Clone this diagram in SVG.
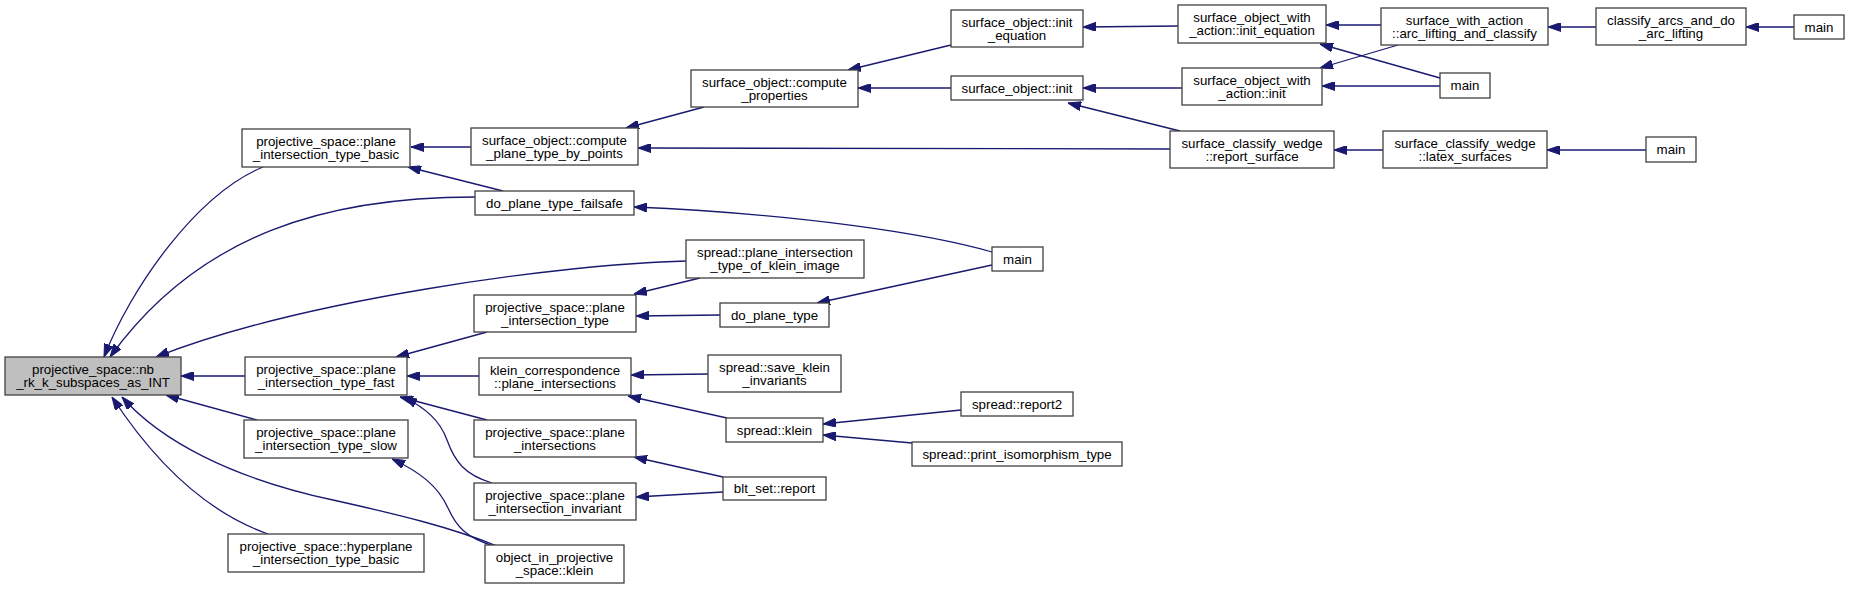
<svg xmlns="http://www.w3.org/2000/svg" width="1850" height="589" viewBox="0 0 1850 589">
<style>
.n rect{fill:#ffffff;stroke:#404040;stroke-width:1.3}
.n.root rect{fill:#bfbfbf}
.n text{font-family:"Liberation Sans",Arial,Helvetica,sans-serif;font-size:13.3px;fill:#000000;text-anchor:middle}
.e path{fill:none;stroke:#191970;stroke-width:1.3;marker-start:url(#ah)}
</style>
<defs>
<marker id="ah" viewBox="0 0 13 9" refX="13" refY="4.5" markerWidth="13" markerHeight="9" markerUnits="userSpaceOnUse" orient="auto-start-reverse">
<path d="M0,0 L13,4.5 L0,9 z" fill="#191970" stroke="#191970" stroke-width="1"/>
</marker>
</defs>
<rect width="1850" height="589" fill="#ffffff"/>
<g id="edges" class="e">
<path d="M411,147 L471,147"/>
<path d="M408,167 L503,191"/>
<path d="M104,357 C130,290 195,195 263,167"/>
<path d="M110,357 C200,232 330,197 475,197"/>
<path d="M156,357 C300,300 560,264 686,261"/>
<path d="M181,376 L245,376"/>
<path d="M166,395 L257,420"/>
<path d="M122,397 C160,440 230,478 333,500 C400,515 450,527 497,546"/>
<path d="M112,397 C150,455 200,510 268,534"/>
<path d="M626,128 L704,107"/>
<path d="M638,148 L1170,149"/>
<path d="M848,70 L951,45"/>
<path d="M858,88 L951,88"/>
<path d="M1083,27 L1178,26"/>
<path d="M1083,88 L1182,88"/>
<path d="M1068,103 L1180,131"/>
<path d="M1326,25 L1381,25"/>
<path d="M1320,44 L1440,78"/>
<path d="M1320,68 L1398,45"/>
<path d="M1322,86 L1440,86"/>
<path d="M1548,27 L1596,27"/>
<path d="M1746,27 L1794,27"/>
<path d="M1334,150 L1383,150"/>
<path d="M1547,150 L1646,150"/>
<path d="M634,207 C800,214 930,234 992,252"/>
<path d="M634,294 L700,278"/>
<path d="M396,357 L487,332"/>
<path d="M636,316 L720,315"/>
<path d="M817,303 L992,265"/>
<path d="M407,376 L479,376"/>
<path d="M400,397 L487,420"/>
<path d="M404,397 C425,408 440,420 447,440 C455,462 465,475 492,483"/>
<path d="M392,459 C420,472 438,486 448,508 C456,526 466,538 494,546"/>
<path d="M631,375 L708,374"/>
<path d="M628,396 L727,418"/>
<path d="M823,424 L961,410"/>
<path d="M823,435 L912,443"/>
<path d="M634,457 L723,477"/>
<path d="M636,497 L723,492"/>
</g>
<g id="node_root" class="n root"><rect x="5" y="357" width="176" height="38"/><text x="93" y="374">projective_space::nb</text><text x="93" y="387">_rk_k_subspaces_as_INT</text></g>
<g id="node_basic" class="n"><rect x="242" y="129" width="168" height="38"/><text x="326" y="146">projective_space::plane</text><text x="326" y="159">_intersection_type_basic</text></g>
<g id="node_fast" class="n"><rect x="245" y="357" width="162" height="38"/><text x="326" y="374">projective_space::plane</text><text x="326" y="387">_intersection_type_fast</text></g>
<g id="node_slow" class="n"><rect x="244" y="420" width="164" height="38"/><text x="326" y="437">projective_space::plane</text><text x="326" y="450">_intersection_type_slow</text></g>
<g id="node_hyperplane" class="n"><rect x="228" y="534" width="196" height="38"/><text x="326" y="551">projective_space::hyperplane</text><text x="326" y="564">_intersection_type_basic</text></g>
<g id="node_cptbp" class="n"><rect x="471" y="128" width="167" height="37"/><text x="554.5" y="144.5">surface_object::compute</text><text x="554.5" y="157.5">_plane_type_by_points</text></g>
<g id="node_failsafe" class="n"><rect x="475" y="191" width="159" height="24"/><text x="554.5" y="207.5">do_plane_type_failsafe</text></g>
<g id="node_compute_properties" class="n"><rect x="691" y="70" width="167" height="37"/><text x="774.5" y="86.5">surface_object::compute</text><text x="774.5" y="99.5">_properties</text></g>
<g id="node_klein_image" class="n"><rect x="686" y="240" width="178" height="38"/><text x="775" y="257">spread::plane_intersection</text><text x="775" y="270">_type_of_klein_image</text></g>
<g id="node_pit" class="n"><rect x="474" y="295" width="162" height="37"/><text x="555" y="311.5">projective_space::plane</text><text x="555" y="324.5">_intersection_type</text></g>
<g id="node_do_plane_type" class="n"><rect x="720" y="303" width="109" height="24"/><text x="774.5" y="319.5">do_plane_type</text></g>
<g id="node_klein_corr" class="n"><rect x="479" y="358" width="152" height="37"/><text x="555" y="374.5">klein_correspondence</text><text x="555" y="387.5">::plane_intersections</text></g>
<g id="node_save_klein" class="n"><rect x="708" y="355" width="133" height="37"/><text x="774.5" y="371.5">spread::save_klein</text><text x="774.5" y="384.5">_invariants</text></g>
<g id="node_spread_klein" class="n"><rect x="726" y="418" width="97" height="24"/><text x="774.5" y="434.5">spread::klein</text></g>
<g id="node_plane_intersections" class="n"><rect x="474" y="420" width="162" height="37"/><text x="555" y="436.5">projective_space::plane</text><text x="555" y="449.5">_intersections</text></g>
<g id="node_blt_report" class="n"><rect x="723" y="477" width="103" height="23"/><text x="774.5" y="493">blt_set::report</text></g>
<g id="node_invariant" class="n"><rect x="474" y="483" width="162" height="37"/><text x="555" y="499.5">projective_space::plane</text><text x="555" y="512.5">_intersection_invariant</text></g>
<g id="node_object_klein" class="n"><rect x="485" y="545" width="139" height="38"/><text x="554.5" y="562">object_in_projective</text><text x="554.5" y="575">_space::klein</text></g>
<g id="node_so_init_equation" class="n"><rect x="951" y="10" width="132" height="37"/><text x="1017" y="26.5">surface_object::init</text><text x="1017" y="39.5">_equation</text></g>
<g id="node_so_init" class="n"><rect x="951" y="76" width="132" height="24"/><text x="1017" y="92.5">surface_object::init</text></g>
<g id="node_swa_init_equation" class="n"><rect x="1178" y="5" width="148" height="38"/><text x="1252" y="22">surface_object_with</text><text x="1252" y="35">_action::init_equation</text></g>
<g id="node_swa_init" class="n"><rect x="1182" y="68" width="140" height="37"/><text x="1252" y="84.5">surface_object_with</text><text x="1252" y="97.5">_action::init</text></g>
<g id="node_report_surface" class="n"><rect x="1170" y="131" width="164" height="37"/><text x="1252" y="147.5">surface_classify_wedge</text><text x="1252" y="160.5">::report_surface</text></g>
<g id="node_main_mid" class="n"><rect x="992" y="247" width="51" height="24"/><text x="1017.5" y="263.5">main</text></g>
<g id="node_arc_lifting" class="n"><rect x="1381" y="8" width="167" height="37"/><text x="1464.5" y="24.5">surface_with_action</text><text x="1464.5" y="37.5">::arc_lifting_and_classify</text></g>
<g id="node_main_init" class="n"><rect x="1440" y="73" width="50" height="25"/><text x="1465" y="90">main</text></g>
<g id="node_latex" class="n"><rect x="1383" y="131" width="164" height="37"/><text x="1465" y="147.5">surface_classify_wedge</text><text x="1465" y="160.5">::latex_surfaces</text></g>
<g id="node_classify_arcs" class="n"><rect x="1596" y="8" width="150" height="37"/><text x="1671" y="24.5">classify_arcs_and_do</text><text x="1671" y="37.5">_arc_lifting</text></g>
<g id="node_main_tr" class="n"><rect x="1794" y="15" width="50" height="24"/><text x="1819" y="31.5">main</text></g>
<g id="node_main_latex" class="n"><rect x="1646" y="137" width="50" height="25"/><text x="1671" y="154">main</text></g>
<g id="node_report2" class="n"><rect x="961" y="392" width="112" height="24"/><text x="1017" y="408.5">spread::report2</text></g>
<g id="node_print_iso" class="n"><rect x="912" y="442" width="210" height="24"/><text x="1017" y="458.5">spread::print_isomorphism_type</text></g>
</svg>
